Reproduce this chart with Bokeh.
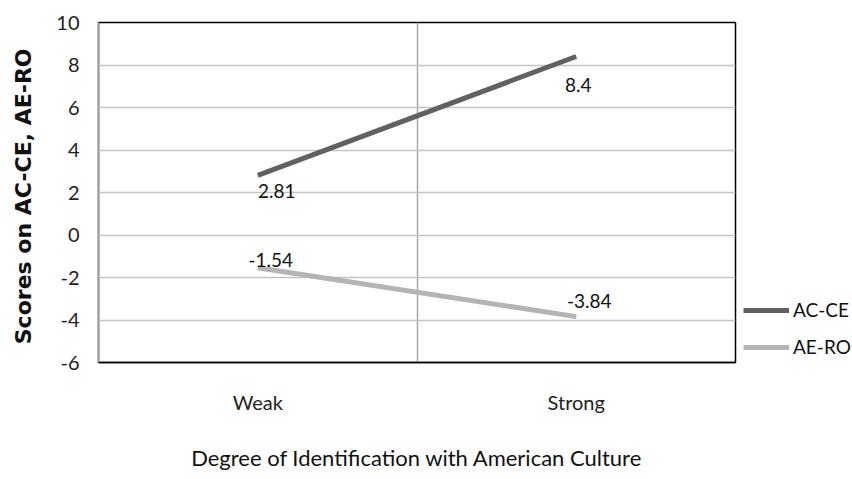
from bokeh.plotting import figure
from bokeh.models import (Range1d, FixedTicker, Legend, LegendItem, ColumnDataSource, LabelSet)
from bokeh.core.properties import value
from bokeh.embed import file_html
from bokeh.resources import INLINE

# ---- data ----
categories = ["Weak", "Strong"]
ac_ce = [2.81, 8.4]
ae_ro = [-1.54, -3.84]
y_ticks = [-6, -4, -2, 0, 2, 4, 6, 8, 10]
y_title = "Scores on AC-CE,  AE-RO"
x_title = "Degree of Identification with American Culture"

# category centres on a numeric axis (boundary gridline between categories)
xs = [i + 0.5 for i in range(len(categories))]

FONT = "Lato"

p = figure(frame_width=637, frame_height=340, output_backend="svg", toolbar_location=None,
           x_range=Range1d(0, len(categories)), y_range=Range1d(-6, 10),
           min_border_left=98, min_border_right=0, min_border_top=22, min_border_bottom=117)
p.background_fill_color = "white"
p.border_fill_color = "white"
p.outline_line_color = "black"
p.outline_line_width = 1.5

# grids
p.ygrid.ticker = FixedTicker(ticks=y_ticks)
p.ygrid.grid_line_color = "#c4c4c4"
p.ygrid.grid_line_width = 1.5
p.xgrid.ticker = FixedTicker(ticks=[float(i) for i in range(1, len(categories))])
p.xgrid.grid_line_color = "#a8a8a8"
p.xgrid.grid_line_width = 1.5

# y axis
p.yaxis.ticker = FixedTicker(ticks=y_ticks)
p.yaxis.major_label_overrides = {t: str(t) for t in y_ticks}
p.yaxis.major_tick_line_color = None
p.yaxis.minor_tick_line_color = None
p.yaxis.axis_line_color = "#a0a0a0"
p.yaxis.axis_line_width = 1.5
p.yaxis.major_label_text_font = FONT
p.yaxis.major_label_text_font_size = "20px"
p.yaxis.major_label_text_color = "#222222"
p.yaxis.major_label_standoff = 13
p.yaxis.axis_label = y_title
p.yaxis.axis_label_text_font = "DejaVu Sans"
p.yaxis.axis_label_text_font_style = "bold"
p.yaxis.axis_label_text_font_size = "22px"
p.yaxis.axis_label_text_color = "#111111"
p.yaxis.axis_label_standoff = 17

# x axis
p.xaxis.ticker = FixedTicker(ticks=xs)
p.xaxis.major_label_overrides = {x: c for x, c in zip(xs, categories)}
p.xaxis.major_tick_line_color = None
p.xaxis.minor_tick_line_color = None
p.xaxis.axis_line_color = "black"
p.xaxis.axis_line_width = 1.5
p.xaxis.major_label_text_font = FONT
p.xaxis.major_label_text_font_size = "20px"
p.xaxis.major_label_text_color = "#222222"
p.xaxis.major_label_standoff = 21
p.xaxis.axis_label = x_title
p.xaxis.axis_label_text_font = FONT
p.xaxis.axis_label_text_font_style = "normal"
p.xaxis.axis_label_text_font_size = "22px"
p.xaxis.axis_label_text_color = "#111111"
p.xaxis.axis_label_standoff = 27

r1 = p.line(xs, ac_ce, line_color="#616161", line_width=5)
r2 = p.line(xs, ae_ro, line_color="#b4b4b4", line_width=5)

# data labels
lab_src = ColumnDataSource(dict(
    x=xs + xs,
    y=ac_ce + ae_ro,
    text=[f"{v:g}" for v in ac_ce + ae_ro],
    dx=[19, 2, 13, 13],
    dy=[-16, -28, 8, 16],
))
labels = LabelSet(x="x", y="y", text="text", source=lab_src, x_offset="dx", y_offset="dy",
                  text_align="center", text_baseline="middle",
                  text_font=value(FONT), text_font_size="19px", text_color="#111111")
p.add_layout(labels)

legend = Legend(items=[LegendItem(label="AC-CE", renderers=[r1]),
                       LegendItem(label="AE-RO", renderers=[r2])],
                location=(8, 4), orientation="vertical",
                glyph_width=46, glyph_height=20, label_height=20, label_standoff=4,
                spacing=14, padding=0, margin=0,
                border_line_color=None, background_fill_alpha=0,
                label_text_font=FONT, label_text_font_size="19px", label_text_color="#111111")
p.add_layout(legend, "right")

open("out.html", "w").write(file_html(p, INLINE))
